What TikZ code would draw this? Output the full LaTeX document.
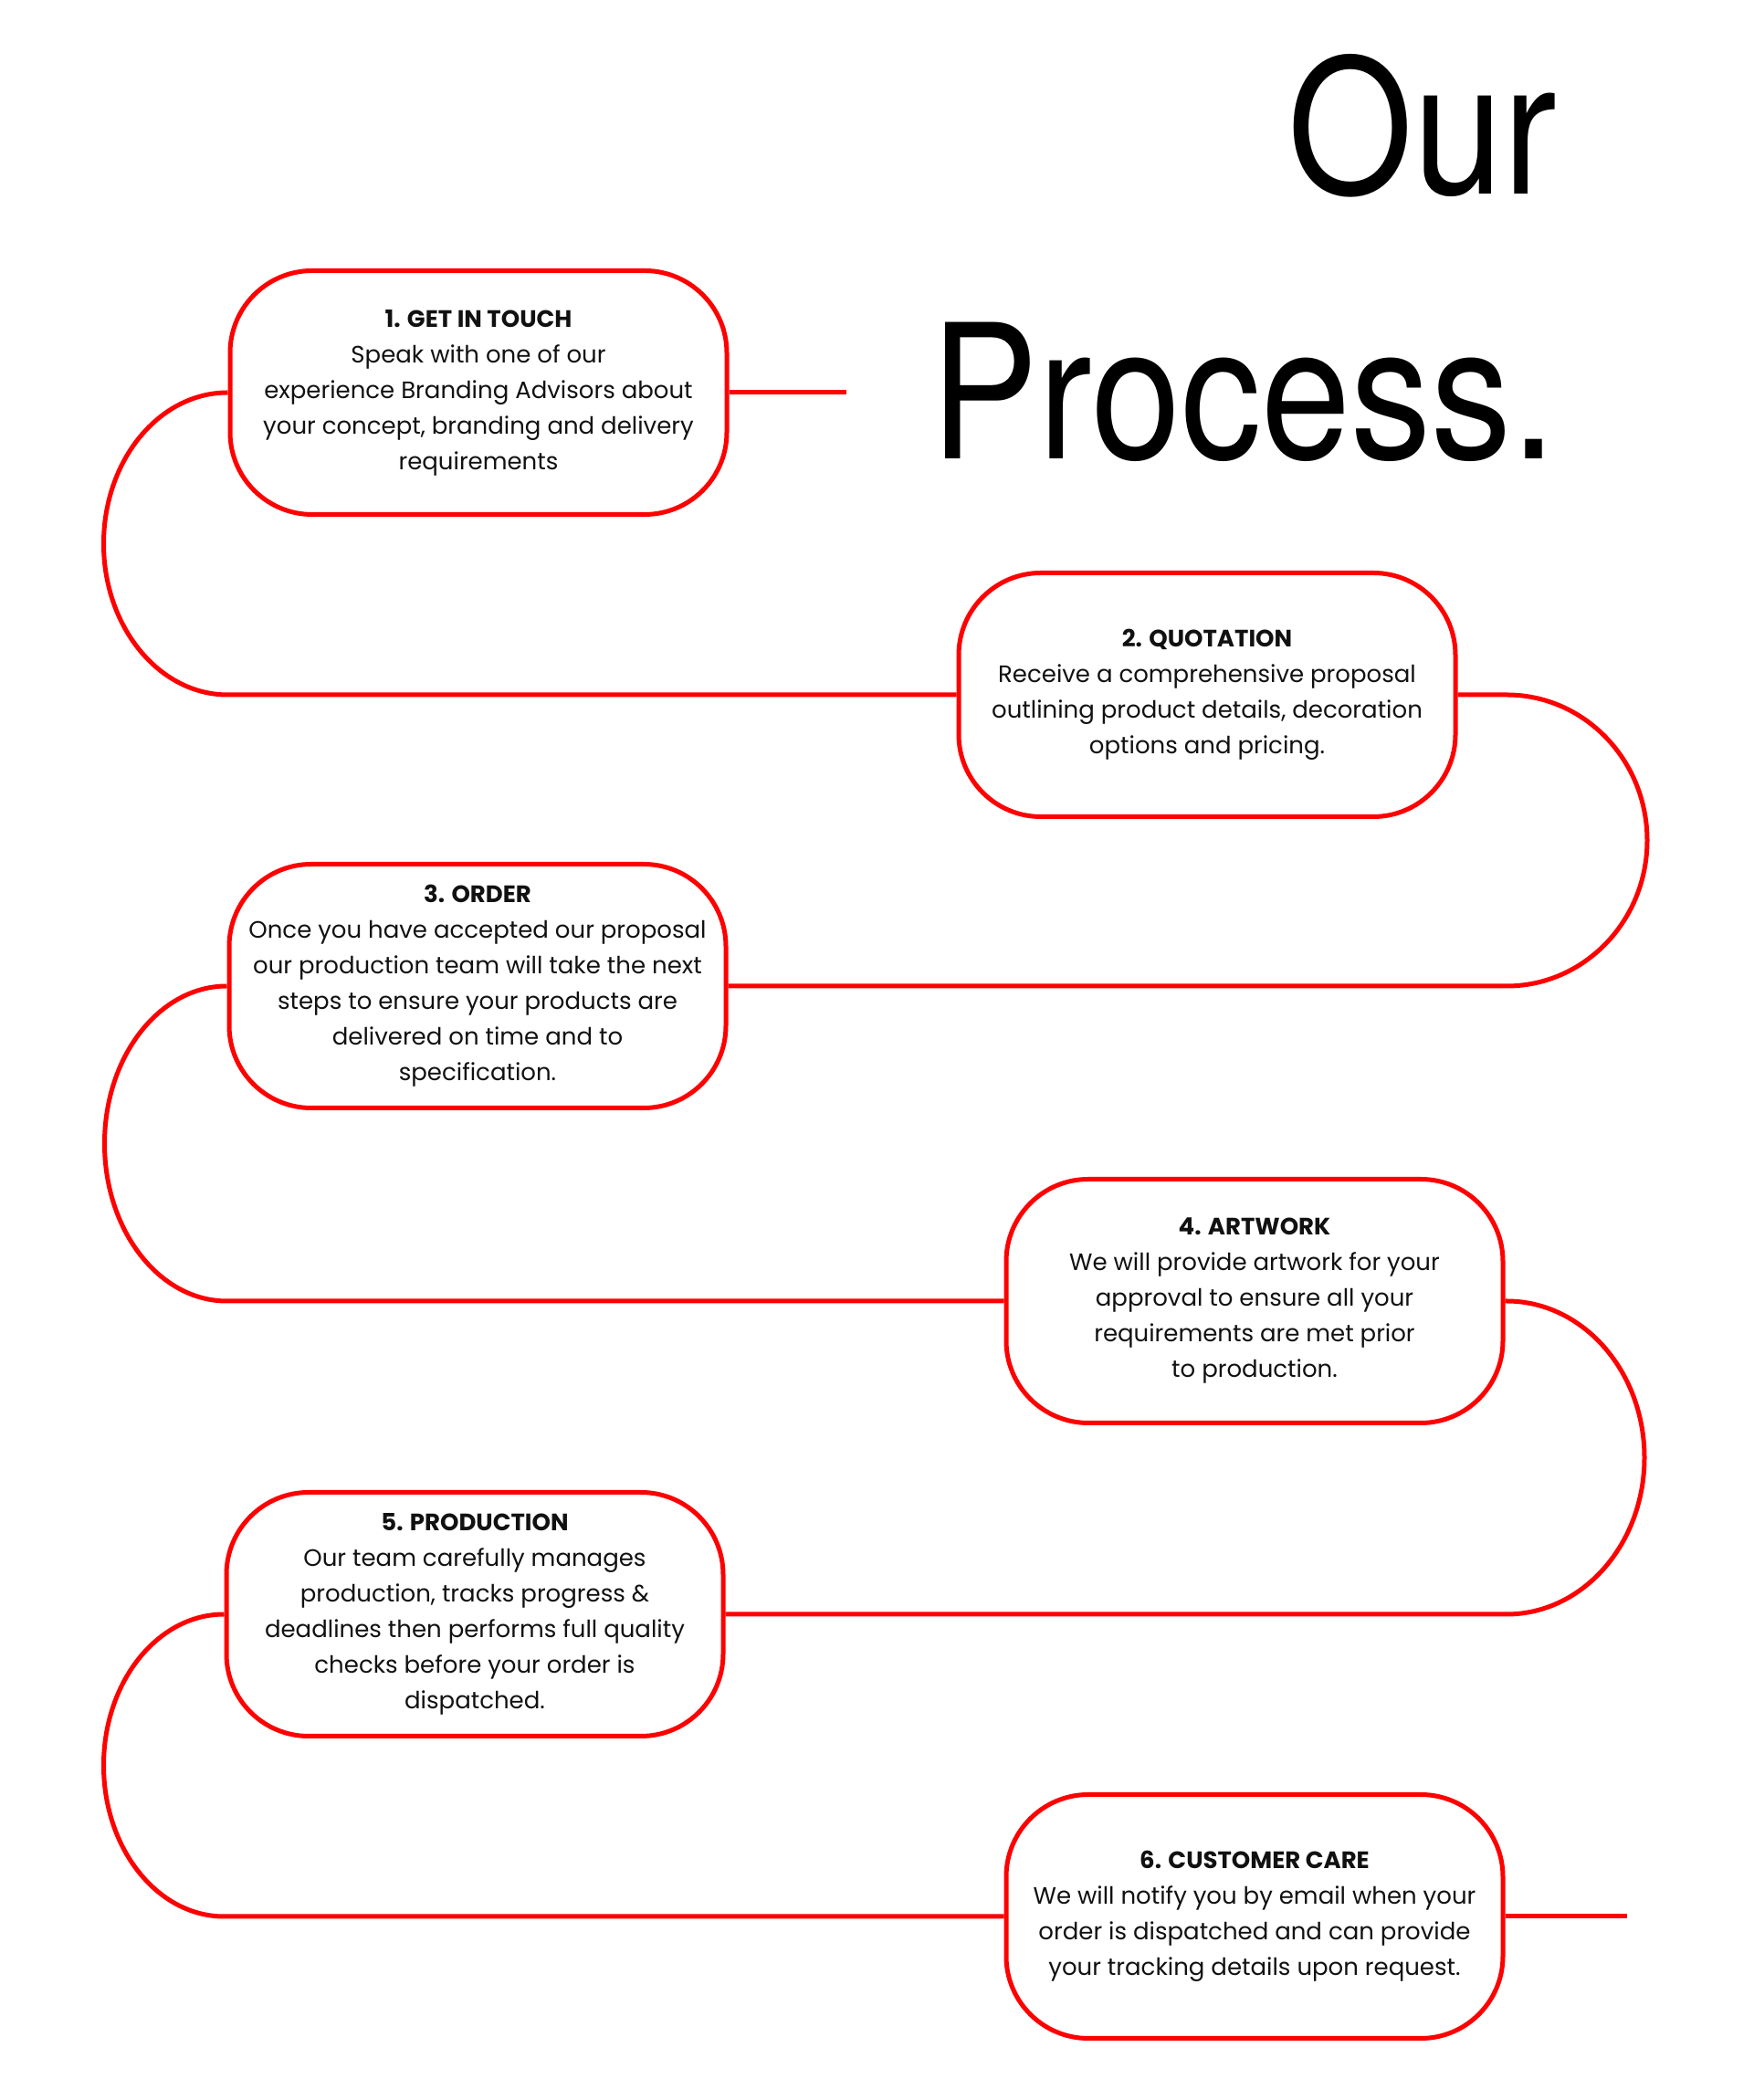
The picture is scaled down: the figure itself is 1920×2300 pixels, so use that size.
\documentclass[tikz,border=0pt]{standalone}
\usepackage{fontspec}
\setmainfont{Poppins}
\newfontfamily\titlefont[FakeStretch=0.86]{TeX Gyre Heros}
\definecolor{pred}{RGB}{255,0,0}
\definecolor{ink}{RGB}{17,17,17}
\begin{document}
\begin{tikzpicture}[x=1pt,y=1pt,
  stepbox/.style={draw=pred, line width=5pt, rounded corners=90pt,
    minimum width=544pt, minimum height=267pt, align=center,
    font=\fontsize{26}{39}\selectfont, text=ink, fill=white, inner sep=0pt},
  flow/.style={draw=pred, line width=5pt},
  bigtitle/.style={font=\titlefont\fontsize{205}{205}\selectfont, text=black, inner sep=0pt, anchor=base east}]
\useasboundingbox[fill=white] (0,0) rectangle (1920,2300);

\node[bigtitle] (t1) at (1705,2087) {Our};
\node[bigtitle] (t2) at (1705,1797) {Process.};

\node[stepbox] (s1) at (524,1870) {{\bfseries 1. GET IN TOUCH}\\Speak with one of our\\experience Branding Advisors about\\your concept, branding and delivery\\requirements};
\node[stepbox] (s2) at (1322,1539) {{\bfseries 2. QUOTATION}\\Receive a comprehensive proposal\\outlining product details, decoration\\options and pricing.};
\node[stepbox] (s3) at (523,1220) {{\bfseries 3. ORDER}\\Once you have accepted our proposal\\our production team will take the next\\steps to ensure your products are\\delivered on time and to\\specification.};
\node[stepbox] (s4) at (1374,875) {{\bfseries 4. ARTWORK}\\We will provide artwork for your\\approval to ensure all your\\requirements are met prior\\to production.};
\node[stepbox] (s5) at (520,532) {{\bfseries 5. PRODUCTION}\\Our team carefully manages\\production, tracks progress \&\\deadlines then performs full quality\\checks before your order is\\dispatched.};
\node[stepbox] (s6) at (1374,201) {{\bfseries 6. CUSTOMER CARE}\\We will notify you by email when your\\order is dispatched and can provide\\your tracking details upon request.};

\coordinate (e1) at (927,1870);
\coordinate (e6) at (1782,201);

\draw[flow] (s1.east) -- (e1);
\draw[flow] (s1.west) arc[start angle=90, end angle=270, x radius=136, y radius=165.5] -- (s2.west);
\draw[flow] (s2.east) -- (1650,1539) arc[start angle=90, end angle=-90, x radius=154, y radius=159.5] -- (s3.east);
\draw[flow] (s3.west) arc[start angle=90, end angle=270, x radius=134, y radius=172.5] -- (s4.west);
\draw[flow] (s4.east) -- (1650,875) arc[start angle=90, end angle=-90, x radius=151, y radius=171.5] -- (s5.east);
\draw[flow] (s5.west) arc[start angle=90, end angle=270, x radius=132, y radius=165.5] -- (s6.west);
\draw[flow] (s6.east) -- (e6);
\end{tikzpicture}
\end{document}
